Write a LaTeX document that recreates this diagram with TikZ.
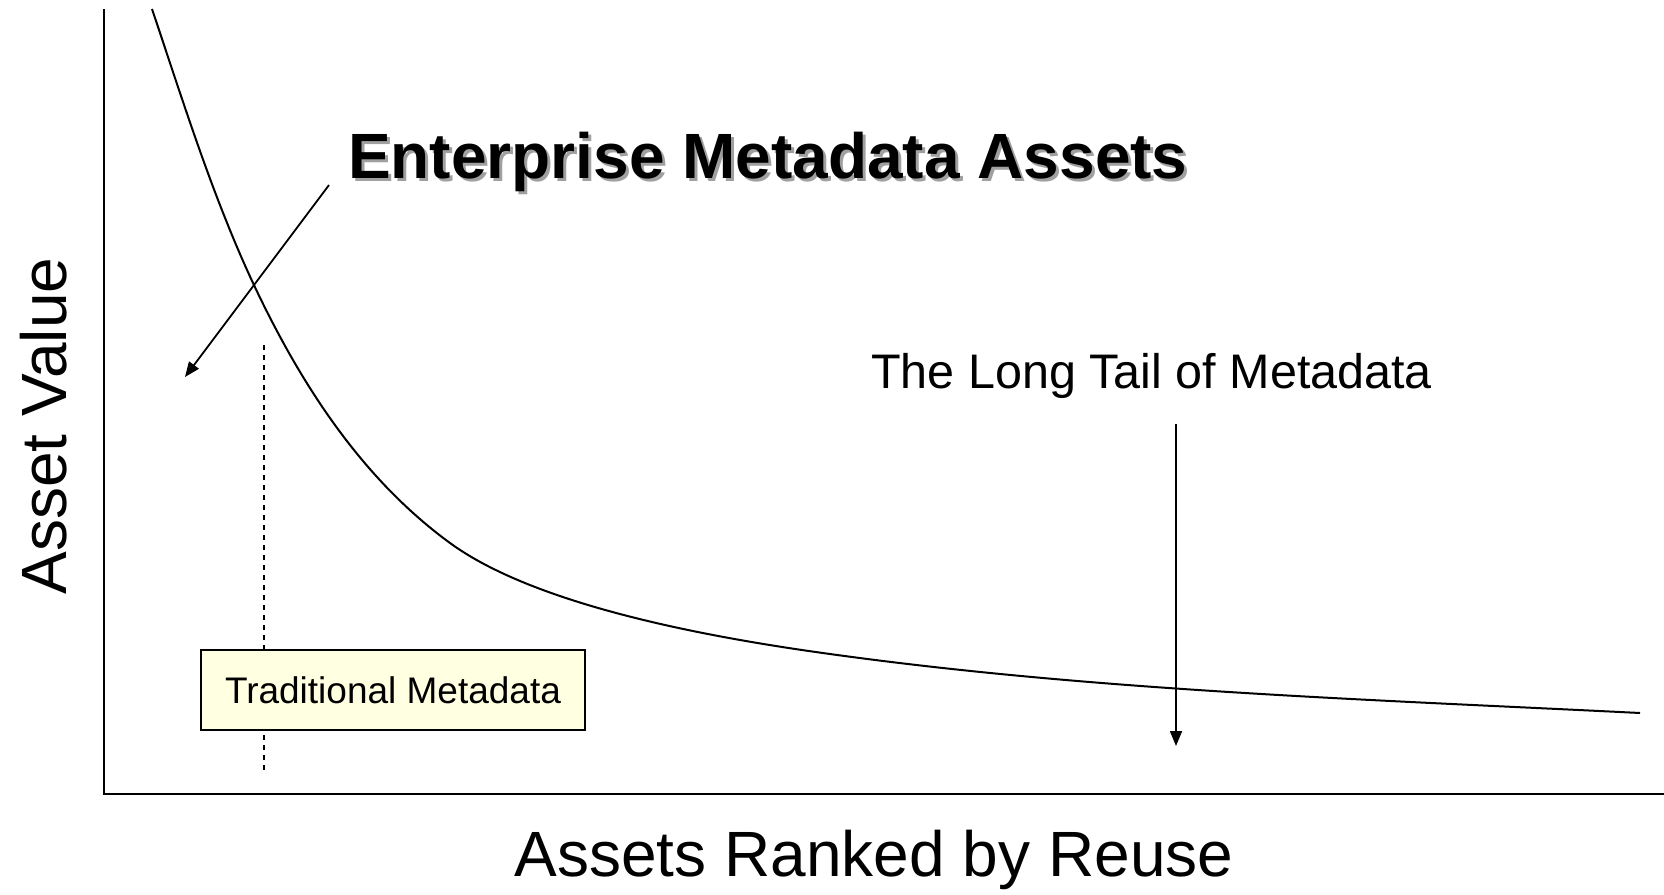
\documentclass[tikz,border=0pt]{standalone}
\usepackage{fontspec}
\setmainfont{Liberation Sans}
\usetikzlibrary{arrows.meta}

\definecolor{notefill}{HTML}{FFFFE1}
\definecolor{shadowgray}{HTML}{A0A0A0}

\tikzset{
  axisline/.style={line width=1.8pt, black},
  valuecurve/.style={line width=2pt, black, line join=round},
  pointer/.style={line width=1.8pt, -{Triangle[length=15pt,width=12pt]}},
  guideline/.style={line width=1.5pt, dash pattern=on 5pt off 5pt},
  notebox/.style={draw, line width=1.5pt, fill=notefill, minimum width=384pt,
                  minimum height=80pt, inner sep=0pt,
                  font=\fontsize{37}{44}\selectfont},
  bigtitle/.style={inner sep=0pt, anchor=base west,
                   font=\fontsize{64}{76}\selectfont\bfseries},
  axislabel/.style={inner sep=0pt, font=\fontsize{64}{76}\selectfont},
  tailtext/.style={inner sep=0pt, anchor=base west,
                   font=\fontsize{48.5}{58}\selectfont}
}

\begin{document}
\begin{tikzpicture}[x=1pt,y=-1pt]
  \useasboundingbox (0,0) rectangle (1664,894);

  % axes
  \coordinate (origin) at (104,794);
  \coordinate (ytop) at (104,9);
  \coordinate (xend) at (1664,794);
  \draw[axisline] (ytop) -- (origin) -- (xend);

  % value curve: steep head, long flat tail
  \draw[valuecurve] (152,9)
    .. controls (183,101) and (212,195) .. (253,283)
    .. controls (300,383) and (361,478) .. (450,543)
    .. controls (539,608) and (721,639) .. (830,654)
    .. controls (1097,691) and (1370,699.5) .. (1640,713);

  % traditional metadata guide and label
  \coordinate (guideTop) at (264,345);
  \coordinate (guideBot) at (264,773);
  \draw[guideline] (guideTop) -- (guideBot);
  \node[notebox] (trad) at (393,690) {Traditional Metadata};

  % headline with drop shadow
  \node[bigtitle, text=shadowgray] (emaShadow) at (351,181) {Enterprise Metadata Assets};
  \node[bigtitle] (ema) at (348,178) {Enterprise Metadata Assets};
  \coordinate (emaStart) at (329,185);
  \coordinate (emaTip) at (185,377);
  \draw[pointer] (emaStart) -- (emaTip);

  % long tail label and pointer
  \node[tailtext] (tail) at (871,388) {The Long Tail of Metadata};
  \coordinate (tailStart) at (1176,424);
  \coordinate (tailTip) at (1176,746);
  \draw[pointer] (tailStart) -- (tailTip);

  % axis titles
  \node[axislabel] (xlabel) at (874,860) {Assets Ranked by Reuse};
  \node[axislabel, rotate=90] (ylabel) at (44,426) {Asset Value};
\end{tikzpicture}
\end{document}
